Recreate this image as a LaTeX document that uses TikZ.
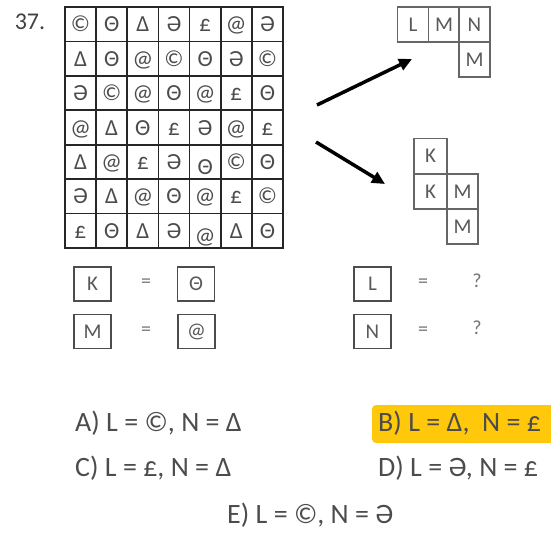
\documentclass[tikz,border=0pt]{standalone}
\usepackage{fontspec}
\setmainfont{Carlito}
\usetikzlibrary{arrows.meta}
\definecolor{marker}{RGB}{255,200,10}
\begin{document}
\begin{tikzpicture}[x=1pt,y=-1pt,
    cell/.style={draw=black!85, line width=1.6pt, outer sep=0pt, inner sep=0pt,
        minimum width=31.14pt, minimum height=34.43pt, text height=15pt, text depth=0pt,
        text=black!70, font=\fontsize{23}{23}\selectfont},
    piece/.style={draw=black!60, line width=1.2pt, outer sep=0pt, inner sep=0pt,
        minimum width=31pt, minimum height=35pt, text=black!65,
        font=\fontsize{21}{21}\selectfont},
    keybox/.style={draw=black!70, line width=1.5pt, outer sep=0pt, inner sep=0pt,
        minimum width=37pt, minimum height=34pt, text=black!65,
        font=\fontsize{21}{21}\selectfont},
    keytext/.style={text=black!55, font=\fontsize{20}{20}\selectfont},
    answer/.style={anchor=west, inner sep=0pt, text=black!70,
        font=\fontsize{28}{28}\selectfont},
    pointer/.style={line width=3.5pt, -{Triangle[length=13pt,width=12pt]}}]

    \useasboundingbox (0,0) rectangle (551,538);

    \def\gridx{65}
    \def\gridy{7}
    \def\cw{31.14}
    \def\ch{34.43}

    \node[text=black!75, font=\fontsize{24}{24}\selectfont, inner sep=0pt] (num) at (30,22) {37.};

    % symbol grid
    \foreach \row [count=\r] in {{©,Θ,Δ,Ə,£,@,Ə},{Δ,Θ,@,©,Θ,Ə,©},{Ə,©,@,Θ,@,£,Θ},
        {@,Δ,Θ,£,Ə,@,£},{Δ,@,£,Ə,\raisebox{-5pt}{Θ},©,Θ},{Ə,Δ,@,Θ,@,£,©},
        {£,Θ,Δ,Ə,\raisebox{-5pt}{@},Δ,Θ}} {
        \foreach \sym [count=\c] in \row {
            \node[cell] (g-\r-\c) at ({\gridx+\cw*(\c-0.5)},{\gridy+\ch*(\r-0.5)}) {\sym};
        }
    }

    % arrows
    \coordinate (up-from) at (317,105);
    \coordinate (up-to) at (412,59);
    \coordinate (down-from) at (316,142);
    \coordinate (down-to) at (385,184);
    \draw[pointer] (up-from) -- (up-to);
    \draw[pointer] (down-from) -- (down-to);

    % upper piece
    \node[piece] (pL) at (413,24.5) {L};
    \node[piece] (pM) at (444,24.5) {M};
    \node[piece] (pN) at (474.5,24.5) {N};
    \node[piece] (pM2) at (474.5,59.5) {M};

    % lower piece
    \node[piece, minimum width=33pt] (qK) at (430.5,156) {K};
    \node[piece, minimum width=33pt] (qK2) at (430.5,191.5) {K};
    \node[piece] (qM) at (462.5,191.5) {M};
    \node[piece] (qM2) at (462.5,226.5) {M};

    % key
    \node[keybox] (kK) at (92.5,284) {K};
    \node[keytext] (eqK) at (146,283) {=};
    \node[keybox] (vK) at (196,284) {Θ};
    \node[keybox] (kM) at (92.5,331.5) {M};
    \node[keytext] (eqM) at (146,331) {=};
    \node[keybox] (vM) at (196.5,331.5) {@};
    \node[keybox] (kL) at (372.5,284) {L};
    \node[keytext] (eqL) at (423,283) {=};
    \node[keytext] (qL) at (477,281) {?};
    \node[keybox] (kN) at (372.5,331.5) {N};
    \node[keytext] (eqN) at (423,331) {=};
    \node[keytext] (qN) at (477,328) {?};

    % answers
    \fill[marker, rounded corners=4pt] (372,405) rectangle (556,443);
    \node[answer] (ansA) at (75,423) {A) L = ©, N = Δ};
    \node[answer] (ansB) at (378,423) {B) L = Δ,\ \ N = £};
    \node[answer] (ansC) at (75,468) {C) L = £, N = Δ};
    \node[answer] (ansD) at (378,468) {D) L = Ə, N = £};
    \node[answer] (ansE) at (227,515) {E) L = ©, N = Ə};
\end{tikzpicture}
\end{document}
